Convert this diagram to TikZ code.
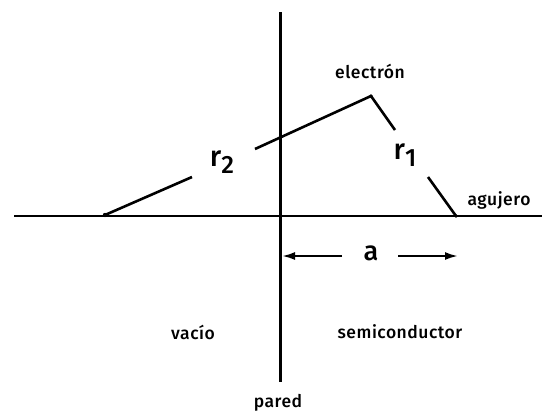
\documentclass[tikz,border=0pt]{standalone}
\usepackage{fontspec}
\setmainfont{Fira Sans}
\newfontfamily\lblfont{Fira Sans Medium}[LetterSpace=3]
\newfontfamily\rfont{Fira Sans Medium}
\usetikzlibrary{arrows.meta}
\begin{document}
\begin{tikzpicture}[x=1pt,y=-1pt,
  ln/.style={line width=2.6pt},
  lbl/.style={font=\lblfont\fontsize{17.5}{20}\selectfont, inner sep=0pt},
  rl/.style={font=\rfont\fontsize{29}{30}\selectfont, inner sep=0pt},
  dim/.style={line width=2.2pt,-{Latex[length=13pt,width=8pt]}}]
\useasboundingbox (0,0) rectangle (542,416);
% axes
\coordinate (wt) at (280.5,12);
\coordinate (wb) at (280.5,382);
\coordinate (hl) at (14,216);
\coordinate (hr) at (542,216);
\draw[ln] (wt) -- (wb);
\draw[ln] (hl) -- (hr);
% points
\coordinate (img) at (105,215);
\coordinate (el) at (371,96);
\coordinate (hole) at (456,216);
\fill (img) circle (2.2pt);
\fill (el) circle (1.8pt);
\fill (hole) circle (1.8pt);
% r2 segments
\coordinate (r2a) at (192,177);
\coordinate (r2b) at (255,149);
\draw[ln] (img) -- (r2a);
\draw[ln] (r2b) -- (el);
\node[rl] (r2) at (222,162) {r\raisebox{-7pt}{\fontsize{25}{26}\selectfont 2}};
% r1 segments
\coordinate (r1a) at (395,130);
\coordinate (r1b) at (428,177);
\draw[ln] (el) -- (r1a);
\draw[ln] (r1b) -- (hole);
\node[rl] (r1) at (405,155) {r\raisebox{-7pt}{\fontsize{25}{26}\selectfont 1}};
% labels
\node[lbl] (elec) at (370,71) {electrón};
\node[lbl] (agu) at (499,200) {agujero};
\node[lbl] (vac) at (193,332) {vacío};
\node[lbl] (semi) at (400,332) {semiconductor};
\node[lbl] (par) at (278,403) {pared};
% dimension a
\node[rl,font=\rfont\fontsize{27}{28}\selectfont] (a) at (371,253) {a};
\coordinate (aL) at (282,256);
\coordinate (aR) at (458,256);
\coordinate (aLs) at (342,256);
\coordinate (aRs) at (398,256);
\draw[dim] (aLs) -- (aL);
\draw[dim] (aRs) -- (aR);
\end{tikzpicture}
\end{document}
